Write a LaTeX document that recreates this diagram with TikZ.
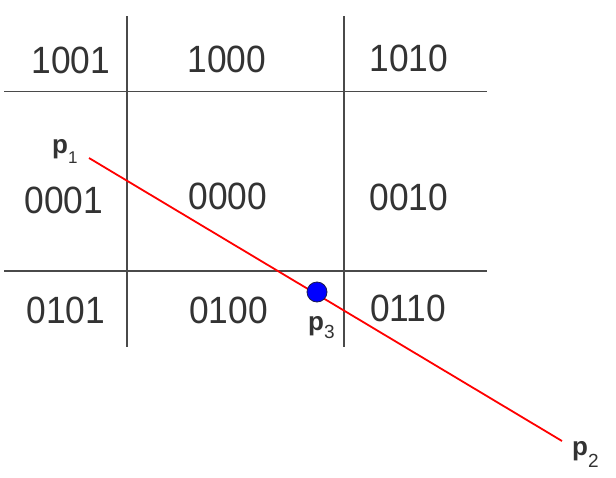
\documentclass[tikz,border=0pt]{standalone}
\usepackage{fontspec}
\setmainfont{Liberation Sans}
\definecolor{textgray}{HTML}{333333}
\definecolor{linegray}{HTML}{4A4A4A}
\definecolor{dotblue}{HTML}{0000FF}
\definecolor{dotedge}{HTML}{1A1A4D}
\newcommand\celltxt[1]{\scalebox{0.93}[1]{#1}}
\tikzset{
  cellcode/.style={font=\fontsize{38}{40}\selectfont, text=textgray, inner sep=0pt, anchor=center},
  grid line/.style={draw=linegray, line width=1.1pt},
  segline/.style={draw=red, line width=1.8pt},
  ptlabel/.style={font=\fontsize{26}{28}\selectfont\bfseries, text=textgray, inner sep=0pt, anchor=base west},
  ptdot/.style={circle, fill=dotblue, draw=dotedge, line width=0.8pt, minimum size=20pt, inner sep=0pt}
}
\begin{document}
\begin{tikzpicture}[x=1pt,y=-1pt]
\useasboundingbox[fill=white] (0,0) rectangle (616,477);
% grid
\coordinate (v1t) at (127,16); \coordinate (v1b) at (127,347);
\coordinate (v2t) at (344,16); \coordinate (v2b) at (344,347);
\coordinate (h1l) at (4,91.5); \coordinate (h1r) at (487,91.5);
\coordinate (h2l) at (4,271); \coordinate (h2r) at (487,271);
\draw[grid line] (v1t) -- (v1b);
\draw[grid line] (v2t) -- (v2b);
\draw[grid line] (h1l) -- (h1r);
\draw[grid line] (h2l) -- (h2r);
% region codes
\node[cellcode] (c1001) at (71,60) {\celltxt{1001}};
\node[cellcode] (c1000) at (227,59.5) {\celltxt{1000}};
\node[cellcode] (c1010) at (409,58.5) {\celltxt{1010}};
\node[cellcode] (c0001) at (64,200) {\celltxt{0001}};
\node[cellcode] (c0000) at (228,196.5) {\celltxt{0000}};
\node[cellcode] (c0010) at (409,197) {\celltxt{0010}};
\node[cellcode] (c0101) at (66,310.5) {\celltxt{0101}};
\node[cellcode] (c0100) at (228.5,310.5) {\celltxt{0100}};
\node[cellcode] (c0110) at (408,308.5) {\celltxt{0110}};
% segment
\coordinate (p1) at (89,158);
\coordinate (p2) at (562,441);
\draw[segline] (p1) -- (p2);
\node[ptdot] (p3) at (317,292) {};
% labels
\node[ptlabel] (lp1) at (52,153) {p\raisebox{-10pt}{\fontsize{17}{17}\selectfont\mdseries 1}};
\node[ptlabel] (lp3) at (308,330) {p\raisebox{-8pt}{\fontsize{19}{19}\selectfont\mdseries 3}};
\node[ptlabel] (lp2) at (572,455) {p\raisebox{-12pt}{\fontsize{19}{19}\selectfont\mdseries 2}};
\end{tikzpicture}
\end{document}
